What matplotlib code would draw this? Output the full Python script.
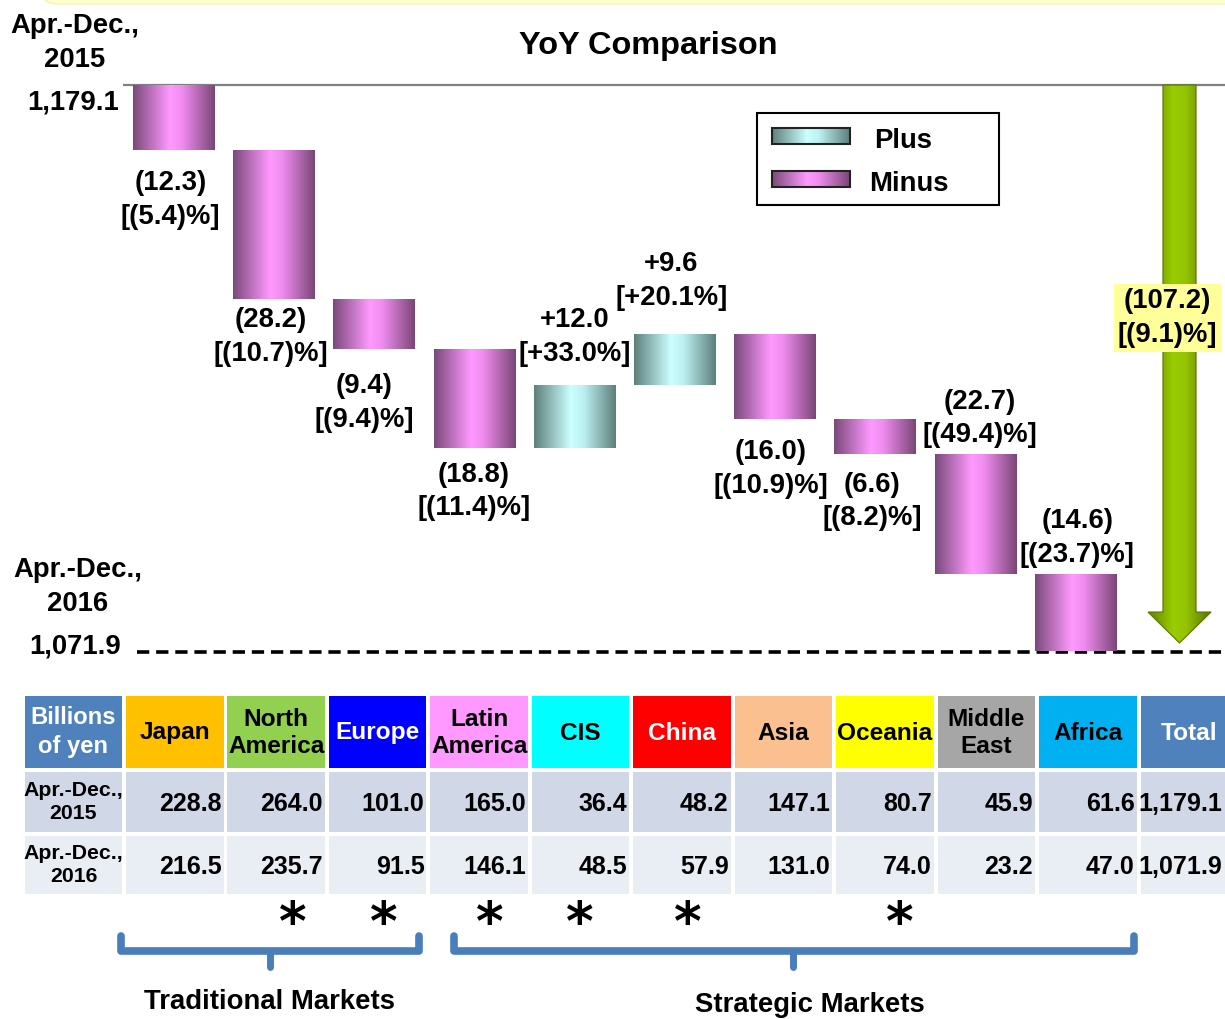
import numpy as np
import matplotlib
matplotlib.use("Agg")
import matplotlib.pyplot as plt
from matplotlib.colors import LinearSegmentedColormap
from matplotlib.patches import Rectangle, FancyArrow, FancyBboxPatch, PathPatch
from matplotlib.path import Path
from matplotlib import font_manager

# ---------------- data ----------------
header_labels = ["Japan", "North\nAmerica", "Europe", "Latin\nAmerica", "CIS", "China",
                 "Asia", "Oceania", "Middle\nEast", "Africa", "Total"]
sales_2015 = [228.8, 264.0, 101.0, 165.0, 36.4, 48.2, 147.1, 80.7, 45.9, 61.6]
sales_2016 = [216.5, 235.7, 91.5, 146.1, 48.5, 57.9, 131.0, 74.0, 23.2, 47.0]
total_2015 = 1179.1
total_2016 = 1071.9
changes = [-12.3, -28.2, -9.4, -18.8, 12.0, 9.6, -16.0, -6.6, -22.7, -14.6]
change_pct = [-5.4, -10.7, -9.4, -11.4, 33.0, 20.1, -10.9, -8.2, -49.4, -23.7]
total_change = -107.2
total_pct = -9.1
strategic_flag = [False, True, True, True, True, True, False, True, False, False]
period_2015 = "Apr.-Dec.,\n2015"
period_2016 = "Apr.-Dec.,\n2016"

# ---------------- styling ----------------
def pick_family():
    for name in ["Liberation Sans Narrow", "Arial Narrow"]:
        try:
            font_manager.findfont(font_manager.FontProperties(family=name),
                                  fallback_to_default=False)
            return name, 1.0
        except Exception:
            pass
    # regular-width face: shrink sizes so text widths stay comparable
    return "Liberation Sans", 0.9

FAM, S = pick_family()
plt.rcParams["font.family"] = [FAM, "DejaVu Sans"]
plt.rcParams["font.weight"] = "bold"

def fs(n):
    return n * S

header_colors = ["#ffc000", "#92d050", "#0000ff", "#ff99ff", "#00ffff", "#ff0000",
                 "#fac090", "#ffff00", "#a6a6a6", "#00b0f0", "#4f81bd"]
header_text_colors = ["black", "black", "white", "black", "black", "white",
                      "black", "black", "black", "black", "white"]

cmap_minus = LinearSegmentedColormap.from_list(
    "minus", [(0, "#7a4a7a"), (0.45, "#ff99ff"), (0.6, "#f08cf0"), (1, "#7a4676")])
cmap_plus = LinearSegmentedColormap.from_list(
    "plus", [(0, "#5e807c"), (0.45, "#ccffff"), (0.6, "#bdf2f2"), (1, "#5e7f7b")])
cmap_green = LinearSegmentedColormap.from_list(
    "green", [(0, "#5f7d00"), (0.4, "#99cc00"), (0.6, "#94c400"), (1, "#577000")])
GRAD = np.linspace(0, 1, 256).reshape(1, -1)

W, H = 1225, 1019
fig = plt.figure(figsize=(W / 100, H / 100), dpi=100)

# chart axes: category step and value scale laid out on the figure
PX_STEP = 100.2          # pixels per category
PX_FIRST = 173.5         # pixel centre of first category
PX_TOP = 85.0            # pixel row of the starting total
PX_BOTTOM = 652.0        # pixel row of the ending total
px_per_unit = (PX_BOTTOM - PX_TOP) / (total_2015 - total_2016)

ax = fig.add_axes([0, 0, 1, 1])
ax.set_xlim(-PX_FIRST / PX_STEP, (W - PX_FIRST) / PX_STEP)
ax.set_ylim(total_2015 - (H - PX_TOP) / px_per_unit, total_2015 + PX_TOP / px_per_unit)
ax.set_autoscale_on(False)
ax.axis("off")

def grad_fill(axis, patch, cmap, z):
    x0, y0 = patch.get_x(), patch.get_y()
    w, h = patch.get_width(), patch.get_height()
    im = axis.imshow(GRAD, cmap=cmap, extent=(x0, x0 + w, y0, y0 + h), aspect="auto",
                     interpolation="bilinear", zorder=z)
    im.set_clip_path(patch)

# reference lines
ax.hlines(total_2015, -0.505, ax.get_xlim()[1], color="#808080", lw=1.6, zorder=1)
ax.hlines(total_2016, -0.365, ax.get_xlim()[1], color="black", lw=2.6,
          linestyles=[(0, (3.4, 1.9))], zorder=1)

# waterfall bars
x = np.arange(len(changes))
levels = total_2015 + np.concatenate([[0], np.cumsum(changes)[:-1]])
bottoms = np.minimum(levels, levels + np.array(changes))
heights = np.abs(changes)
bars = ax.bar(x, heights, bottom=bottoms, width=0.81, color="none", edgecolor="none", zorder=2)
for b, c in zip(bars, changes):
    grad_fill(ax, b, cmap_plus if c > 0 else cmap_minus, 3)

def fmt_val(v):
    return f"+{v:.1f}" if v > 0 else f"({abs(v):.1f})"

def fmt_pct(v):
    return f"[+{v:.1f}%]" if v > 0 else f"[({abs(v):.1f})%]"

# label anchor: 'bot' = below bar bottom, 'top' = above bar top; (dx, dy) in pixels (down positive)
label_place = [("bot", -3, 50), ("bot", -3, 38), ("bot", -10, 54), ("bot", 0, 43),
               ("top", 0, -48), ("top", -3, -53), ("bot", -4, 50), ("bot", -3, 48),
               ("top", 5, -35), ("top", 2, -36)]
for i, (c, p) in enumerate(zip(changes, change_pct)):
    side, dx, dy = label_place[i]
    yref = bottoms[i] if side == "bot" else bottoms[i] + heights[i]
    ax.annotate(fmt_val(c) + "\n" + fmt_pct(p), (x[i], yref), xytext=(dx, -dy),
                textcoords="offset pixels", ha="center", va="center", fontsize=fs(22),
                fontweight="bold", linespacing=1.38, zorder=5)

# total arrow
x_tot = 10.04
tip = total_2016 + 9 / px_per_unit
arrow = FancyArrow(x_tot, total_2015, 0, tip - total_2015, width=0.33, head_width=0.63,
                   head_length=31 / px_per_unit, length_includes_head=True,
                   facecolor="none", edgecolor="#5a7400", lw=0.8, zorder=4)
ax.add_patch(arrow)
im = ax.imshow(GRAD, cmap=cmap_green, extent=(x_tot - 0.32, x_tot + 0.32, tip, total_2015),
               aspect="auto", interpolation="bilinear", zorder=3)
im.set_clip_path(arrow)
ax.annotate(fmt_val(total_change) + "\n" + fmt_pct(total_pct), (x_tot, total_2015),
            xytext=(-12, -233), textcoords="offset pixels", ha="center", va="center",
            fontsize=fs(22), fontweight="bold", linespacing=1.38, zorder=6,
            bbox=dict(boxstyle="square,pad=0.15", facecolor="#ffff99", edgecolor="none"))

# ---------------- canvas in pixel coordinates ----------------
cv = fig.add_axes([0, 0, 1, 1])
cv.set_xlim(0, W)
cv.set_ylim(H, 0)
cv.axis("off")
cv.set_autoscale_on(False)

# top banner edge
cv.add_patch(FancyBboxPatch((40, -60), 1230, 64, boxstyle="round,pad=0,rounding_size=18",
                            facecolor="#ffffcc", edgecolor="#f6f2b8", lw=1, zorder=0))

# title and period labels
cv.text(648, 46, "YoY Comparison", ha="center", va="center", fontsize=fs(26), fontweight="bold")
cv.text(75, 43, period_2015, ha="center", va="center", fontsize=fs(22), fontweight="bold",
        linespacing=1.38)
cv.text(119, 102, f"{total_2015:,.1f}", ha="right", va="center", fontsize=fs(22), fontweight="bold")
cv.text(78, 587, period_2016, ha="center", va="center", fontsize=fs(22), fontweight="bold",
        linespacing=1.38)
cv.text(121, 647, f"{total_2016:,.1f}", ha="right", va="center", fontsize=fs(22), fontweight="bold")

# legend
cv.add_patch(Rectangle((757, 113), 242, 92, facecolor="white", edgecolor="black", lw=1.5, zorder=5))
for (y0, cm, txt, tx) in [(128, cmap_plus, "Plus", 874), (171, cmap_minus, "Minus", 869)]:
    r = Rectangle((772, y0), 78, 16, facecolor="none", edgecolor="#222222", lw=1.5, zorder=7)
    cv.add_patch(r)
    g = cv.imshow(GRAD, cmap=cm, extent=(772, 850, y0 + 16, y0), aspect="auto",
                  interpolation="bilinear", zorder=6)
    g.set_clip_path(r)
    cv.text(tx, y0 + 13, txt, ha="left", va="center", fontsize=fs(22), fontweight="bold", zorder=8)

# table
COL0, COLW, CELLW = 126.0, 101.45, 97.5
rows = [(696, 72), (772, 60), (836, 58)]
cv.add_patch(Rectangle((25, rows[0][0]), 97, rows[0][1], facecolor="#4f81bd", edgecolor="none"))
cv.text(73.5, rows[0][0] + rows[0][1] / 2, "Billions\nof yen", ha="center", va="center",
        color="white", fontsize=fs(19), fontweight="bold", linespacing=1.3)
for (ry, rh), lab, bg in [(rows[1], period_2015, "#d0d8e8"), (rows[2], period_2016, "#e9edf4")]:
    cv.add_patch(Rectangle((25, ry), 97, rh, facecolor=bg, edgecolor="none"))
    cv.text(73.5, ry + rh / 2, lab, ha="center", va="center", fontsize=fs(17), fontweight="bold",
            linespacing=1.3)

col_2015 = [f"{v:,.1f}" for v in sales_2015] + [f"{total_2015:,.1f}"]
col_2016 = [f"{v:,.1f}" for v in sales_2016] + [f"{total_2016:,.1f}"]
for j, name in enumerate(header_labels):
    left = COL0 + COLW * j
    cv.add_patch(Rectangle((left, rows[0][0]), CELLW, rows[0][1], facecolor=header_colors[j],
                           edgecolor="none"))
    cv.text(left + CELLW / 2, rows[0][0] + rows[0][1] / 2 + 1, name, ha="center", va="center",
            color=header_text_colors[j], fontsize=fs(19.5), fontweight="bold", linespacing=1.25)
    for (ry, rh), bg, val in [(rows[1], "#d0d8e8", col_2015[j]), (rows[2], "#e9edf4", col_2016[j])]:
        cv.add_patch(Rectangle((left, ry), CELLW, rh, facecolor=bg, edgecolor="none"))
        cv.text(min(left + CELLW - 2, W - 3), ry + rh / 2 + 2, val, ha="right", va="center",
                fontsize=fs(20), fontweight="bold")

# strategic-market markers
star_px = [293, 384, 490, 580, 688, 900]
flagged = [j for j, f in enumerate(strategic_flag) if f]
for j, sx in zip(flagged, star_px):
    cv.text(sx, 925, "*", ha="center", va="center", fontsize=38, fontweight="bold",
            family="DejaVu Sans")

# brackets
def bracket(x0, x1, xm):
    verts = [(x0, 936), (x0, 951), (x1, 951), (x1, 936)]
    p = Path(verts, [Path.MOVETO, Path.LINETO, Path.LINETO, Path.LINETO])
    cv.add_patch(PathPatch(p, facecolor="none", edgecolor="#4a7ebb", lw=5.5,
                           joinstyle="round", capstyle="round"))
    cv.plot([xm, xm], [951, 967], color="#4a7ebb", lw=5.0, solid_capstyle="round")

bracket(121, 419, 270)
bracket(454, 1134, 793)
cv.text(270, 1002, "Traditional Markets", ha="center", va="center", fontsize=fs(22), fontweight="bold")
cv.text(810, 1005, "Strategic Markets", ha="center", va="center", fontsize=fs(22), fontweight="bold")

fig.savefig("out.png", dpi=100)
